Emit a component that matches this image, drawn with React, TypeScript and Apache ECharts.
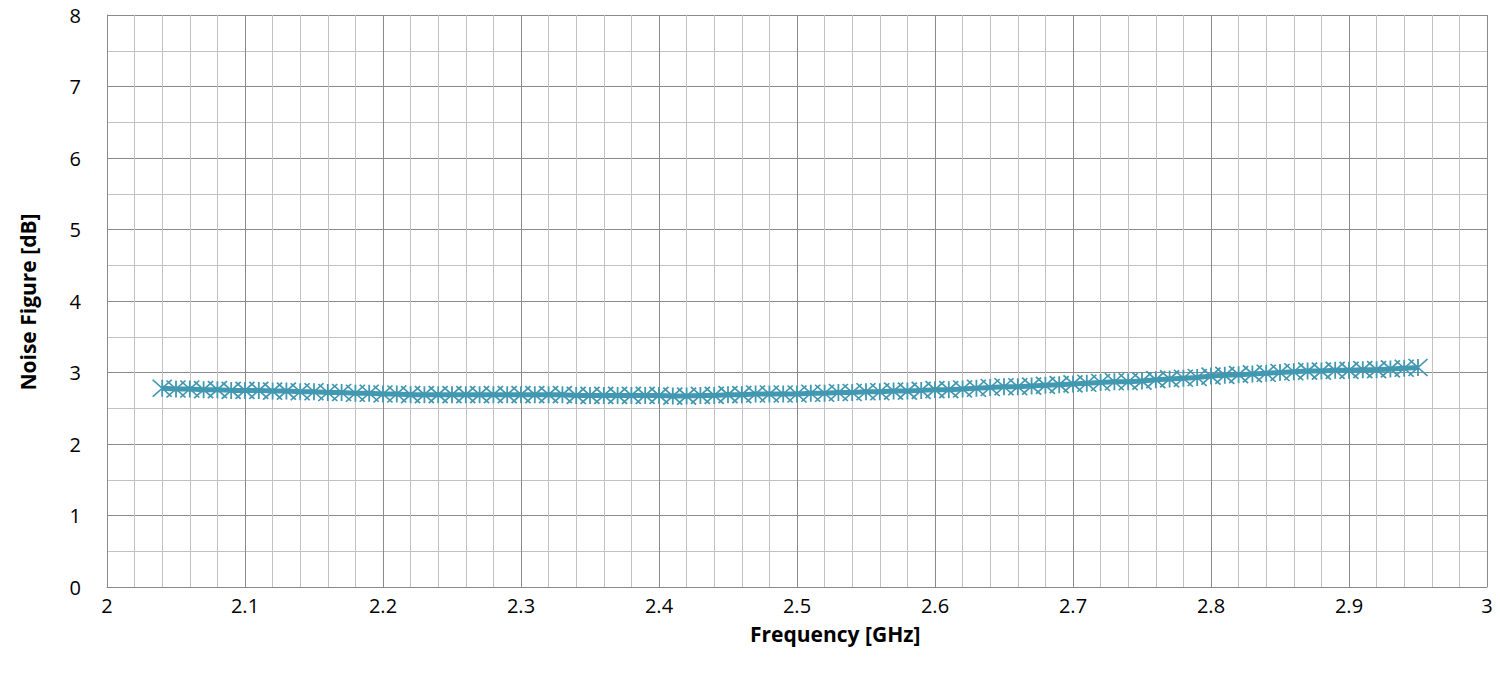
import React, { useEffect, useRef } from "react";
import * as echarts from "echarts";

const freqGHz: number[] = [
  2.04, 2.05, 2.06, 2.07, 2.08, 2.09, 2.10, 2.11, 2.12, 2.13,
  2.14, 2.15, 2.16, 2.17, 2.18, 2.19, 2.20, 2.21, 2.22, 2.23,
  2.24, 2.25, 2.26, 2.27, 2.28, 2.29, 2.30, 2.31, 2.32, 2.33,
  2.34, 2.35, 2.36, 2.37, 2.38, 2.39, 2.40, 2.41, 2.42, 2.43,
  2.44, 2.45, 2.46, 2.47, 2.48, 2.49, 2.50, 2.51, 2.52, 2.53,
  2.54, 2.55, 2.56, 2.57, 2.58, 2.59, 2.60, 2.61, 2.62, 2.63,
  2.64, 2.65, 2.66, 2.67, 2.68, 2.69, 2.70, 2.71, 2.72, 2.73,
  2.74, 2.75, 2.76, 2.77, 2.78, 2.79, 2.80, 2.81, 2.82, 2.83,
  2.84, 2.85, 2.86, 2.87, 2.88, 2.89, 2.90, 2.91, 2.92, 2.93,
  2.94, 2.95,
];

const noiseFigureDb: number[] = [
  2.78, 2.77, 2.77, 2.76, 2.76, 2.75, 2.75, 2.75, 2.74, 2.74,
  2.73, 2.73, 2.72, 2.72, 2.71, 2.71, 2.70, 2.70, 2.69, 2.69,
  2.69, 2.69, 2.69, 2.69, 2.69, 2.69, 2.69, 2.69, 2.69, 2.69,
  2.68, 2.68, 2.68, 2.68, 2.68, 2.68, 2.68, 2.67, 2.67, 2.68,
  2.68, 2.69, 2.69, 2.70, 2.70, 2.70, 2.70, 2.71, 2.71, 2.72,
  2.72, 2.73, 2.73, 2.74, 2.74, 2.75, 2.76, 2.76, 2.77, 2.78,
  2.79, 2.80, 2.80, 2.81, 2.82, 2.83, 2.84, 2.85, 2.86, 2.87,
  2.87, 2.88, 2.90, 2.91, 2.92, 2.93, 2.95, 2.96, 2.97, 2.98,
  2.99, 3.00, 3.01, 3.02, 3.02, 3.03, 3.03, 3.04, 3.04, 3.05,
  3.06, 3.07,
];

const xAxisTitle = "Frequency [GHz]";
const yAxisTitle = "Noise Figure [dB]";

const SERIES_COLOR = "#4298B1";
const MAJOR_GRID = "#8a8a8a";
const MINOR_GRID = "#c2c2c2";
const FONT = "'Open Sans', 'Noto Sans', sans-serif";

export default function App() {
  const ref = useRef<HTMLDivElement | null>(null);

  useEffect(() => {
    document.body.style.margin = "0";
    if (!ref.current) return;
    const chart = echarts.init(ref.current, null, { renderer: "svg" });
    const data = freqGHz.map((f, i) => [f, noiseFigureDb[i]]);
    chart.setOption({
      animation: false,
      backgroundColor: "#ffffff",
      grid: { left: 107, right: 13, top: 15, bottom: 95, containLabel: false },
      graphic: [
        {
          type: "text",
          left: 839 - 89,
          top: 637 - 14,
          style: {
            text: xAxisTitle,
            font: `bold 21px ${FONT}`,
            fill: "#000",
          },
        },
        {
          type: "text",
          x: 28,
          y: 302,
          rotation: Math.PI / 2,
          style: {
            text: yAxisTitle,
            font: `bold 21px ${FONT}`,
            fill: "#000",
            align: "center",
            verticalAlign: "middle",
          },
        },
      ],
      xAxis: {
        type: "value",
        min: 2,
        max: 3,
        interval: 0.1,
        axisLine: { show: true, lineStyle: { color: MAJOR_GRID, width: 1 } },
        axisTick: { show: false },
        axisLabel: {
          fontFamily: FONT,
          fontSize: 20,
          color: "#000",
          margin: 8,
          formatter: (v: number) => String(Math.round(v * 10) / 10),
        },
        splitLine: { show: true, lineStyle: { color: MAJOR_GRID, width: 1 } },
        minorTick: { show: false, splitNumber: 5 },
        minorSplitLine: { show: true, lineStyle: { color: MINOR_GRID, width: 1 } },
      },
      yAxis: {
        type: "value",
        min: 0,
        max: 8,
        interval: 1,
        axisLine: { show: true, lineStyle: { color: MAJOR_GRID, width: 1 } },
        axisTick: { show: false },
        axisLabel: { fontFamily: FONT, fontSize: 20, color: "#000", margin: 26 },
        splitLine: { show: true, lineStyle: { color: MAJOR_GRID, width: 1 } },
        minorTick: { show: false, splitNumber: 2 },
        minorSplitLine: { show: true, lineStyle: { color: MINOR_GRID, width: 1 } },
      },
      series: [
        {
          type: "line",
          data,
          showSymbol: true,
          showAllSymbol: true,
          symbol: "path://M0,0L10,10M10,0L0,10M5,0L5,10",
          symbolSize: [19, 17],
          lineStyle: { color: SERIES_COLOR, width: 5 },
          itemStyle: { color: "none", borderColor: SERIES_COLOR, borderWidth: 1.7 },
          emphasis: { disabled: true },
        },
      ],
    });
    return () => chart.dispose();
  }, []);

  return <div ref={ref} style={{ width: 1500, height: 682 }} />;
}
